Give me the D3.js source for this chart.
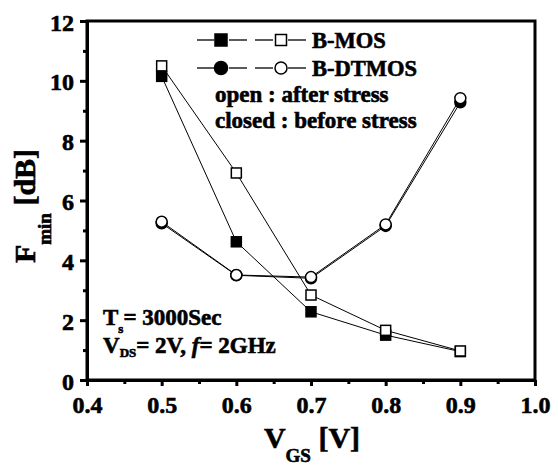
<!DOCTYPE html>
<html>
<head>
<meta charset="utf-8">
<script src="https://cdn.jsdelivr.net/npm/d3@7"></script>
<style>
  body { margin: 0; background: #fff; }
  svg text { font-family: "Liberation Serif", "Times New Roman", serif; font-weight: bold; fill: #000; stroke: #000; stroke-width: 0.6px; }
</style>
</head>
<body>
<div id="chart"></div>
<script>
// data
const vgs = [0.5, 0.6, 0.7, 0.8, 0.9];
const mosBefore = [10.15, 4.62, 2.28, 1.5, 0.95];
const mosAfter = [10.5, 6.92, 2.84, 1.66, 0.97];
const dtBefore = [5.24, 3.5, 3.4, 5.15, 9.28];
const dtAfter = [5.29, 3.51, 3.44, 5.2, 9.42];
const xTicks = [0.4, 0.5, 0.6, 0.7, 0.8, 0.9, 1.0];
const xMinor = [0.45, 0.55, 0.65, 0.75, 0.85, 0.95];
const yTicks = [0, 2, 4, 6, 8, 10, 12];
const yMinor = [1, 3, 5, 7, 9, 11];

const w = 558, h = 465;
const plotL = 87, plotR = 535, plotT = 21, plotB = 380;

const svg = d3.select("#chart").append("svg")
  .attr("width", w)
  .attr("height", h);

const x = d3.scaleLinear().domain([0.4, 1.0]).range([plotL, plotR]);
const y = d3.scaleLinear().domain([0, 12]).range([plotB, plotT]);

// frame
svg.append("rect")
  .attr("x", plotL).attr("y", plotT)
  .attr("width", plotR - plotL).attr("height", plotB - plotT)
  .attr("fill", "none").attr("stroke", "#000").attr("stroke-width", 3);

// axes
const xAxis = svg.append("g")
  .attr("transform", `translate(0,${plotB})`)
  .call(d3.axisBottom(x).tickValues(xTicks).tickFormat(d3.format(".1f")).tickSize(6).tickSizeOuter(0))
  .attr("font-family", null).attr("font-size", null);
xAxis.select(".domain").attr("stroke-width", 3);
xAxis.selectAll(".tick line").attr("stroke-width", 3);
xAxis.selectAll("text").attr("font-size", 24).attr("y", 16).attr("dy", "0.71em");

svg.append("g")
  .attr("transform", `translate(0,${plotB})`)
  .call(d3.axisBottom(x).tickValues(xMinor).tickFormat("").tickSize(4).tickSizeOuter(0))
  .call(g => g.select(".domain").remove())
  .selectAll(".tick line").attr("stroke-width", 3);

const yAxis = svg.append("g")
  .attr("transform", `translate(${plotL},0)`)
  .call(d3.axisLeft(y).tickValues(yTicks).tickSize(7).tickSizeOuter(0))
  .attr("font-family", null).attr("font-size", null);
yAxis.select(".domain").attr("stroke-width", 3);
yAxis.selectAll(".tick line").attr("stroke-width", 3);
yAxis.selectAll("text").attr("font-size", 24).attr("x", -13).attr("dy", "0.38em");

svg.append("g")
  .attr("transform", `translate(${plotL},0)`)
  .call(d3.axisLeft(y).tickValues(yMinor).tickFormat("").tickSize(4).tickSizeOuter(0))
  .call(g => g.select(".domain").remove())
  .selectAll(".tick line").attr("stroke-width", 3);

// axis titles
const yl = svg.append("text")
  .attr("transform", "translate(35,206) rotate(-90)")
  .attr("text-anchor", "middle")
  .attr("font-size", 30);
yl.append("tspan").text("F");
yl.append("tspan").attr("font-size", 19).attr("dy", 16).text("min");
yl.append("tspan").attr("dy", -16).text(" [dB]");

const xl = svg.append("text")
  .attr("x", 312).attr("y", 448)
  .attr("text-anchor", "middle")
  .attr("font-size", 30);
xl.append("tspan").text("V");
xl.append("tspan").attr("font-size", 19).attr("dy", 14).text("GS");
xl.append("tspan").attr("dy", -14).text(" [V]");

// series
const line = d3.line().x(d => x(d[0])).y(d => y(d[1]));
const series = [
  { vals: mosBefore, shape: "square", open: false },
  { vals: dtBefore, shape: "circle", open: false },
  { vals: mosAfter, shape: "square", open: true },
  { vals: dtAfter, shape: "circle", open: true }
];

const drawMarker = (g, shape, open, cx, cy, s) => {
  if (shape === "square") {
    g.append("rect")
      .attr("x", cx - s / 2).attr("y", cy - s / 2)
      .attr("width", s).attr("height", s)
      .attr("fill", open ? "#fff" : "#000")
      .attr("stroke", "#000").attr("stroke-width", 1.5);
  } else {
    g.append("circle")
      .attr("cx", cx).attr("cy", cy).attr("r", s / 2 + 0.5)
      .attr("fill", open ? "#fff" : "#000")
      .attr("stroke", "#000").attr("stroke-width", 1.5);
  }
};

series.forEach(s => {
  const pts = vgs.map((v, i) => [v, s.vals[i]]);
  svg.append("path")
    .attr("d", line(pts))
    .attr("fill", "none")
    .attr("stroke", "#000")
    .attr("stroke-width", 1);
});
series.forEach(s => {
  const g = svg.append("g");
  vgs.forEach((v, i) => drawMarker(g, s.shape, s.open, x(v), y(s.vals[i]), 10));
});

// legend
const legendRows = [
  { shape: "square", label: "B-MOS", yy: 40 },
  { shape: "circle", label: "B-DTMOS", yy: 68 }
];
legendRows.forEach(r => {
  const g = svg.append("g");
  [[197, 214], [229, 247], [255, 273], [288, 306]].forEach(seg => {
    g.append("line")
      .attr("x1", seg[0]).attr("x2", seg[1])
      .attr("y1", r.yy).attr("y2", r.yy)
      .attr("stroke", "#000").attr("stroke-width", 1.3);
  });
  drawMarker(g, r.shape, false, 221, r.yy, 12);
  drawMarker(g, r.shape, true, 281, r.yy, 11);
  g.append("text")
    .attr("x", 312).attr("y", r.yy + 8)
    .attr("font-size", 22.5)
    .text(r.label);
});
svg.append("text").attr("x", 215).attr("y", 102).attr("font-size", 23).text("open : after stress");
svg.append("text").attr("x", 215).attr("y", 128).attr("font-size", 23).text("closed : before stress");

// conditions
const t1 = svg.append("text").attr("x", 103).attr("y", 325).attr("font-size", 23);
t1.append("tspan").text("T");
t1.append("tspan").attr("font-size", 13).attr("dy", 8).text("s");
t1.append("tspan").attr("dy", -8).text("= 3000Sec");

const t2 = svg.append("text").attr("x", 103).attr("y", 353).attr("font-size", 23);
t2.append("tspan").text("V");
t2.append("tspan").attr("font-size", 13).attr("dy", 4).text("DS");
t2.append("tspan").attr("dy", -4).text("= 2V, ");
t2.append("tspan").attr("font-style", "italic").text("f");
t2.append("tspan").text("= 2GHz");
</script>
</body>
</html>
